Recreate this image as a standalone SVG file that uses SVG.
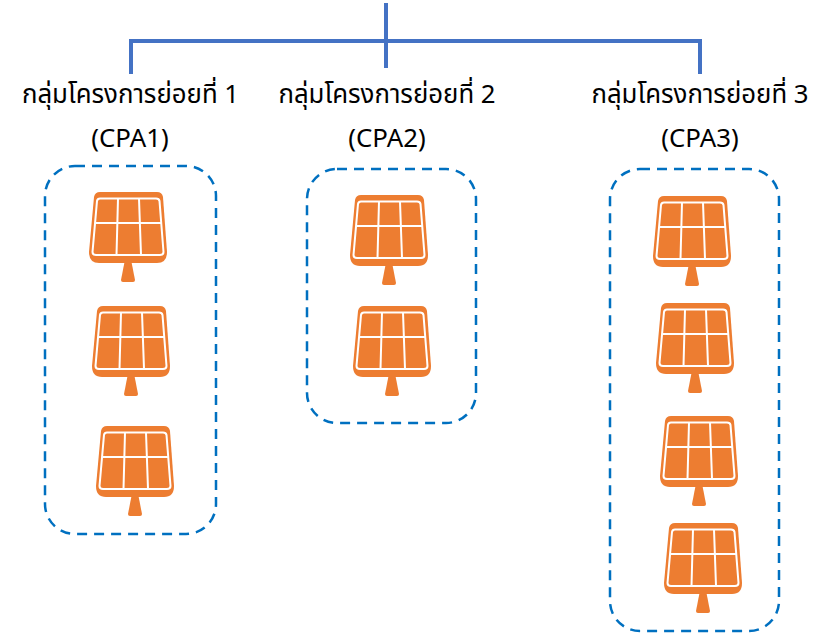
<svg xmlns="http://www.w3.org/2000/svg" xmlns:xlink="http://www.w3.org/1999/xlink" width="827" height="634" viewBox="0 0 827 634">
<style>
text{font-family:"Noto Sans","Noto Sans Thai","Open Sans","DejaVu Sans",sans-serif;font-size:25.800px;fill:#000;text-anchor:middle}
.c{fill:none;stroke:#4472c4;stroke-width:4}
.g{fill:none;stroke:#0070c0;stroke-width:2.500;stroke-dasharray:10 7}
</style>
<defs>
<g id="panel">
<path d="M11 0H68Q73 0 74 5L78 60Q78 71 68 71H10Q0 71 0 60L5 5Q6 0 11 0Z" fill="#ed7d31"/>
<path d="M11 6.500H67Q70 6.500 70.500 9L74.500 60Q74.500 63 71 63H7Q3.500 63 3.500 60L8 9Q8.500 6.500 11 6.500Z" fill="none" stroke="#fff" stroke-width="2"/>
<path d="M6 31H72M29 6.500L27.500 63M50 6.500L52 63" fill="none" stroke="#fff" stroke-width="2"/>
<path d="M35.500 70H42.500L46 88Q46 90 44 90H34Q32 90 32 88Z" fill="#ed7d31"/>
</g>
</defs>
<g id="connectors">
<path class="c" d="M386 3V68M131 74V41H700V74"/>
</g>
<g id="cpa1">
<text x="130.500" y="103">กลุ่มโครงการย่อยที่ 1</text>
<text x="130" y="147">(CPA1)</text>
<rect class="g" x="45" y="166" width="171" height="368" rx="30"/>
<use xlink:href="#panel" href="#panel" x="89" y="192"/>
<use xlink:href="#panel" href="#panel" x="92" y="306"/>
<use xlink:href="#panel" href="#panel" x="96" y="426"/>
</g>
<g id="cpa2">
<text x="387" y="103">กลุ่มโครงการย่อยที่ 2</text>
<text x="387" y="147">(CPA2)</text>
<rect class="g" x="307" y="169" width="169" height="254" rx="30"/>
<use xlink:href="#panel" href="#panel" x="350" y="195"/>
<use xlink:href="#panel" href="#panel" x="353" y="306"/>
</g>
<g id="cpa3">
<text x="700" y="103">กลุ่มโครงการย่อยที่ 3</text>
<text x="700" y="147">(CPA3)</text>
<rect class="g" x="610" y="169" width="169" height="462" rx="30"/>
<use xlink:href="#panel" href="#panel" x="653" y="196"/>
<use xlink:href="#panel" href="#panel" x="656" y="303"/>
<use xlink:href="#panel" href="#panel" x="660" y="416"/>
<use xlink:href="#panel" href="#panel" x="664" y="523"/>
</g>
</svg>
